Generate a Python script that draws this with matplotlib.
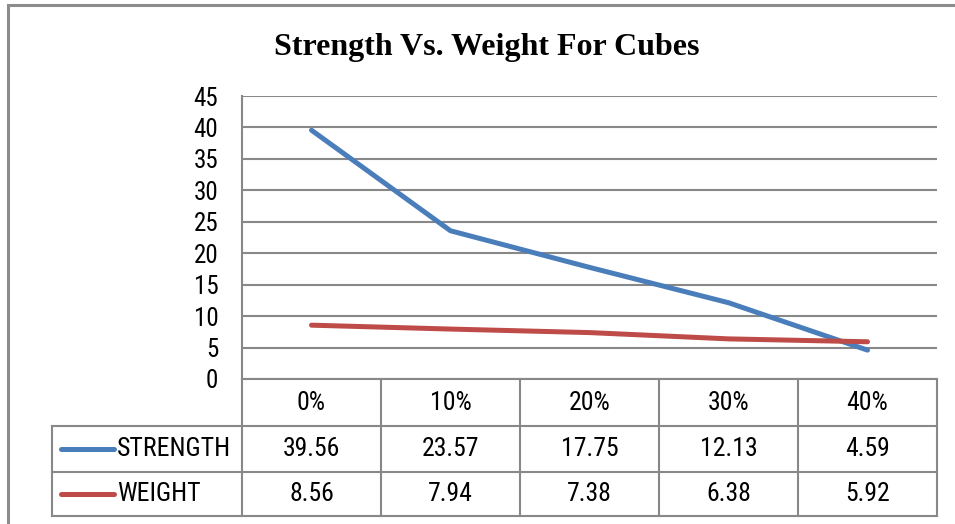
import matplotlib
matplotlib.use("Agg")
import matplotlib.pyplot as plt
from matplotlib.patches import Rectangle
from matplotlib.lines import Line2D

categories = ["0%", "10%", "20%", "30%", "40%"]
strength = [39.56, 23.57, 17.75, 12.13, 4.59]
weight = [8.56, 7.94, 7.38, 6.38, 5.92]
series_names = ["STRENGTH", "WEIGHT"]
yticks = [0, 5, 10, 15, 20, 25, 30, 35, 40, 45]
title = "Strength Vs. Weight For Cubes"

BLUE = "#4A7EBB"
RED = "#BE4B48"
GRID = "#888888"
NARROW = ["Roboto Condensed", "Archivo Narrow", "Liberation Sans", "DejaVu Sans"]

W, H = 955, 524
fig = plt.figure(figsize=(W / 100, H / 100), dpi=100)

# outer chart border (top and left visible; cropped on right/bottom)
fig.patches.append(Rectangle((8 / W, -0.1), 1.2, 1 - 5 / H + 0.1, transform=fig.transFigure,
                             fill=False, edgecolor="#8c8c8c", linewidth=2.2))

L, R, T, B = 242, 937, 96, 379
ax = fig.add_axes([L / W, 1 - B / H, (R - L) / W, (B - T) / H])

x = list(range(len(categories)))
ax.plot(x, strength, color=BLUE, lw=3.6, solid_capstyle="round", zorder=3)
ax.plot(x, weight, color=RED, lw=3.6, solid_capstyle="round", zorder=4)

ax.set_xlim(-0.5, len(categories) - 0.5)
ax.set_ylim(0, 45)
ax.set_yticks(yticks)
ax.set_yticklabels([str(v) for v in yticks], family=NARROW, fontsize=18)
ax.set_xticks([])
ax.tick_params(axis="y", length=0, pad=17)
ax.grid(axis="y", color=GRID, lw=1.5)
ax.set_axisbelow(True)
for s in ["top", "right", "bottom"]:
    ax.spines[s].set_visible(False)
ax.spines["left"].set_color(GRID)
ax.spines["left"].set_linewidth(1.5)

# data table
pw = R - L
ph = B - T
leg_left = 52
row_edges_px = [379, 426, 472, 516]
col_edges_px = [leg_left] + [L + i * (pw / len(categories)) for i in range(len(categories) + 1)]

def ax_x(px):
    return (px - L) / pw

def ax_y(py):
    return (B - py) / ph

lk = dict(color=GRID, lw=1.5, transform=ax.transAxes, clip_on=False)
ax.add_line(Line2D([ax_x(L), ax_x(R)], [ax_y(row_edges_px[0])] * 2, **lk))
for py in row_edges_px[1:]:
    ax.add_line(Line2D([ax_x(leg_left), ax_x(R)], [ax_y(py)] * 2, **lk))
ax.add_line(Line2D([ax_x(leg_left)] * 2, [ax_y(row_edges_px[1]), ax_y(row_edges_px[3])], **lk))
for px in col_edges_px[1:]:
    ax.add_line(Line2D([ax_x(px)] * 2, [ax_y(row_edges_px[0]), ax_y(row_edges_px[3])], **lk))

tk = dict(transform=ax.transAxes, family=NARROW, fontsize=18.5, va="center", clip_on=False)
hy = ax_y((row_edges_px[0] + row_edges_px[1]) / 2)
for i, c in enumerate(categories):
    ax.text((i + 0.5) / len(categories), hy, c, ha="center", **tk)

rows = [strength, weight]
colors = [BLUE, RED]
for r, (name, vals, col) in enumerate(zip(series_names, rows, colors)):
    cy = ax_y((row_edges_px[r + 1] + row_edges_px[r + 2]) / 2)
    ax.add_line(Line2D([ax_x(61), ax_x(114)], [cy, cy], color=col, lw=3.6,
                       solid_capstyle="round", transform=ax.transAxes, clip_on=False))
    ax.text(ax_x(117), cy, name, ha="left", **tk)
    for i, v in enumerate(vals):
        ax.text((i + 0.5) / len(categories), cy, f"{v:.2f}", ha="center", **tk)

fig.text(487 / W, 1 - 48 / H, title, ha="center", va="center",
         family=["Liberation Serif", "DejaVu Serif"], fontweight="bold", fontsize=23)

fig.savefig("out.png", dpi=100)
